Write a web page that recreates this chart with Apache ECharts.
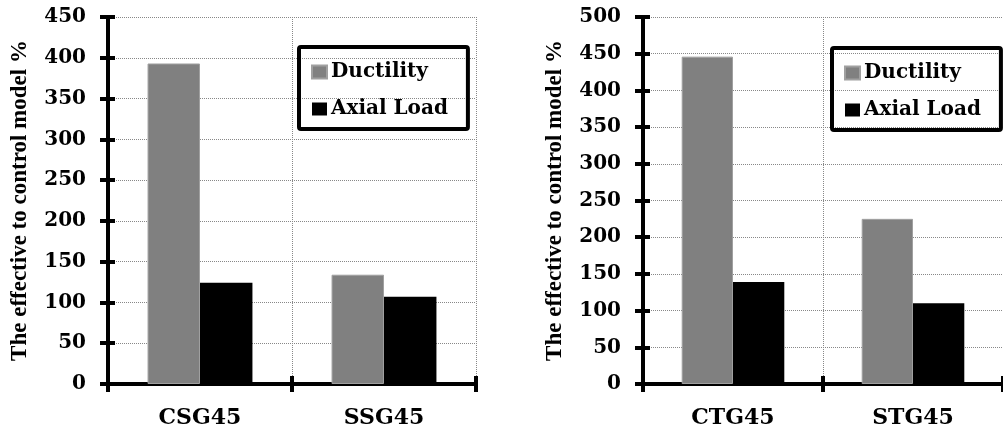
<!DOCTYPE html>
<html>
<head>
<meta charset="utf-8">
<script src="https://cdn.jsdelivr.net/npm/echarts@6/dist/echarts.min.js"></script>
<style>html,body{margin:0;padding:0;background:#fff}#c{width:1003px;height:429px}</style>
</head>
<body>
<div id="c"></div>
<script>
const leftCategories = ['CSG45', 'SSG45'];
const leftDuctility = [393, 134];
const leftAxial = [124, 107];
const rightCategories = ['CTG45', 'STG45'];
const rightDuctility = [446, 225];
const rightAxial = [139, 110];
const leftMax = 450;
const rightMax = 500;
const tickStep = 50;
const yTitle = 'The effective to control model %';
const seriesNames = ['Ductility', 'Axial Load'];

const serifWide = 'DejaVu Serif';
const serif = '"Liberation Serif", "Times New Roman", serif';

function xAxes(gridIndex, cats) {
  return [{
    type: 'category', gridIndex, data: cats, position: 'bottom',
    axisLine: { lineStyle: { color: '#000', width: 4 } },
    axisTick: { show: true, length: 8, lineStyle: { color: '#000', width: 4 } },
    axisLabel: { color: '#000', fontFamily: serifWide, fontWeight: 'bold', fontSize: 22, margin: 23 },
    splitLine: { show: true, lineStyle: { type: 'dotted', color: '#888', width: 1 } }
  }, {
    type: 'category', gridIndex, data: cats, position: 'bottom',
    axisLine: { show: false },
    axisTick: { show: true, inside: true, length: 8, lineStyle: { color: '#000', width: 4 } },
    axisLabel: { show: false },
    splitLine: { show: false }
  }];
}
function yAxes(gridIndex, max) {
  return [{
    type: 'value', gridIndex, min: 0, max, interval: tickStep, position: 'left',
    name: yTitle, nameLocation: 'middle', nameGap: 76, nameRotate: 90,
    nameTextStyle: { color: '#000', fontFamily: serif, fontWeight: 'bold', fontSize: 23 },
    axisLine: { show: true, lineStyle: { color: '#000', width: 4 } },
    axisTick: { show: true, length: 8, lineStyle: { color: '#000', width: 4 } },
    axisLabel: { color: '#000', fontFamily: serifWide, fontWeight: 'bold', fontSize: 20, margin: 22 },
    splitLine: { show: true, lineStyle: { type: 'dotted', color: '#888', width: 1 } }
  }, {
    type: 'value', gridIndex, min: 0, max, interval: tickStep, position: 'left',
    axisLine: { show: false },
    axisTick: { show: true, inside: true, length: 7, lineStyle: { color: '#000', width: 4 } },
    axisLabel: { show: false },
    splitLine: { show: false }
  }];
}
function legend(left, top) {
  return {
    data: seriesNames, orient: 'vertical', left, top,
    borderColor: '#000', borderWidth: 4, borderRadius: 2,
    padding: [15, 20, 10, 12], itemGap: 17, itemWidth: 15, itemHeight: 13,
    icon: 'rect', selectedMode: false,
    textStyle: { color: '#000', fontFamily: serifWide, fontWeight: 'bold', fontSize: 20, padding: [0, 0, 0, -1] }
  };
}
function bars(xi, yi, d, a) {
  return [{
    name: seriesNames[0], type: 'bar', xAxisIndex: xi, yAxisIndex: yi, data: d,
    barCategoryGap: '43%', barGap: '0%',
    itemStyle: { color: '#808080', borderColor: '#a0a0a0', borderWidth: 1 }
  }, {
    name: seriesNames[1], type: 'bar', xAxisIndex: xi, yAxisIndex: yi, data: a,
    barCategoryGap: '43%', barGap: '0%',
    itemStyle: { color: '#000' }
  }];
}

const chart = echarts.init(document.getElementById('c'), null, { renderer: 'canvas' });
chart.setOption({
  animation: false,
  backgroundColor: '#fff',
  grid: [
    { left: 108, top: 17, width: 368, height: 371 },
    { left: 643, top: 17, width: 364, height: 370 }
  ],
  legend: [legend(299, 47), legend(832, 48)],
  xAxis: [...xAxes(0, leftCategories), ...xAxes(1, rightCategories)],
  yAxis: [...yAxes(0, leftMax), ...yAxes(1, rightMax)],
  series: [...bars(0, 0, leftDuctility, leftAxial), ...bars(2, 2, rightDuctility, rightAxial)]
});
</script>
</body>
</html>
